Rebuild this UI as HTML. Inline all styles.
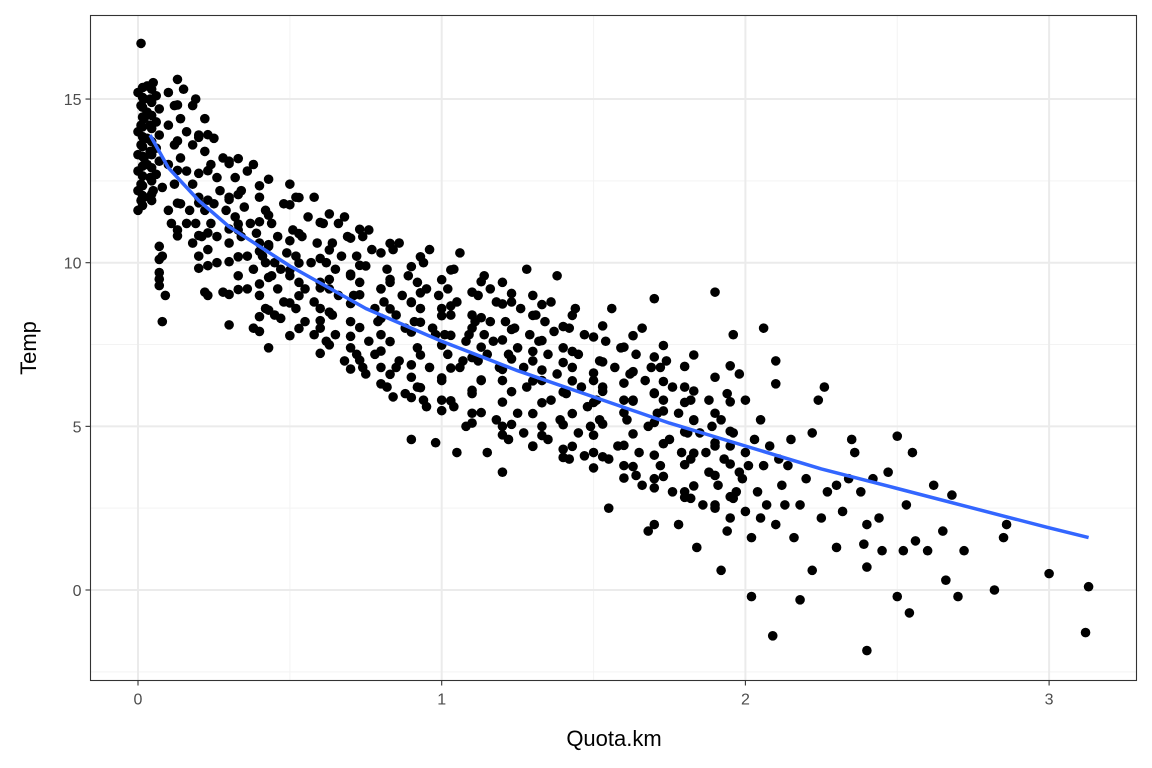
<!DOCTYPE html>
<html><head><meta charset="utf-8"><style>
body{margin:0;background:#fff;}
svg{display:block;font-family:"Liberation Sans",sans-serif;}
</style></head><body>
<svg id="chart" width="1152" height="768" viewBox="0 0 1152 768" xmlns="http://www.w3.org/2000/svg">
<rect x="0" y="0" width="1152" height="768" fill="#fff"/>
<g id="grid"></g>
<g id="points"></g>
<g id="curve"></g>
<rect x="90.5" y="15.5" width="1046" height="665" fill="none" stroke="#333" stroke-width="1.1"/>
<g id="axes"></g>
<text x="614" y="746" font-size="22" text-anchor="middle" fill="#000">Quota.km</text>
<text transform="translate(36,348) rotate(-90)" font-size="22" text-anchor="middle" fill="#000">Temp</text>
</svg>
<script>
const xTicks=[0,1,2,3];
const yTicks=[0,5,10,15];
const xMinor=[0.5,1.5,2.5];
const yMinor=[-2.5,2.5,7.5,12.5];
const curveX=[0.04,0.1,0.2,0.3,0.5,0.75,1,1.25,1.5,1.75,2,2.25,2.5,2.75,3,3.13];
const curveY=[13.9,12.9,11.9,11.1,9.9,8.6,7.6,6.7,5.9,5.1,4.4,3.7,3.1,2.5,1.9,1.6];
const quotaKm=[0.00,0.01,0.02,0.00,0.01,0.02,0.00,0.01,0.02,0.00,0.03,0.04,0.03,0.04,0.03,0.04,0.03,0.04,0.05,0.01,0.05,0.06,0.07,0.06,0.07,0.06,0.07,0.06,0.08,0.00,0.01,0.02,0.00,0.01,
0.07,0.07,0.07,0.07,0.08,0.09,0.08,0.07,0.1,
0.1,0.12,0.14,0.16,0.18,0.2,0.22,0.24,0.26,0.28,0.1,0.12,0.14,0.16,0.18,0.2,0.22,0.24,0.26,0.1,0.12,0.14,0.16,0.18,0.2,0.22,0.23,0.15,0.13,0.18,0.22,0.25,0.19,0.3,0.32,0.34,0.36,0.38,0.3,0.32,0.34,0.36,0.3,0.3,0.28,0.26,0.4,0.42,0.44,0.46,0.48,0.5,0.52,0.4,0.42,0.44,0.46,0.48,0.4,0.42,0.38,0.4,0.43,0.45,0.5,0.52,0.54,0.56,0.58,0.55,0.58,0.6,0.62,0.64,0.66,0.68,0.6,0.62,0.64,0.66,0.7,0.72,0.74,0.76,0.7,0.72,0.74,0.76,0.78,0.8,0.82,0.84,0.86,0.8,0.82,0.84,0.86,0.88,0.9,0.92,0.94,0.96,0.9,0.92,0.9,0.94,0.96,0.98,1.0,1.02,1.04,1.06,1.0,1.02,1.04,1.06,1.08,1.1,1.12,1.14,1.16,0.98,1.05,1.08,1.1,1.12,1.14,1.16,1.18,1.2,1.15,1.18,1.2,1.22,1.24,1.26,1.28,1.3,1.2,1.22,1.25,1.28,1.3,1.32,1.34,1.36,1.38,1.3,1.33,1.36,1.38,1.4,1.42,1.44,1.42,1.45,1.48,1.5,1.52,1.54,1.56,1.46,1.5,1.52,1.55,1.58,1.6,1.62,1.64,1.66,1.65,1.68,1.7,1.72,1.74,1.7,1.66,1.68,1.7,1.72,1.75,1.78,1.8,1.82,1.78,1.8,1.82,1.85,1.88,1.9,1.84,1.86,1.88,1.9,1.92,1.94,1.96,1.92,1.94,1.96,1.98,2.0,1.96,2.0,2.02,2.02,2.04,2.06,2.08,2.06,2.1,2.1,2.1,2.12,2.14,2.09,2.16,2.18,2.2,2.22,2.18,2.22,2.25,2.27,2.24,2.26,2.3,2.32,2.34,2.36,2.38,2.4,2.4,2.39,2.42,2.44,2.45,2.47,2.5,2.52,2.5,2.54,2.55,2.56,2.6,2.62,2.65,2.66,2.68,2.7,2.72,2.82,2.85,2.86,3.0,3.12,3.13,2.4,2.53,2.3,2.35,2.15,2.05,2.0,1.98,
0.25,0.27,0.29,0.33,0.35,0.37,0.39,0.41,0.43,0.45,0.47,0.49,0.51,0.53,0.57,0.59,0.61,0.63,0.65,0.67,0.69,0.71,0.73,0.75,0.77,0.79,0.81,0.83,0.85,0.87,0.89,0.91,0.93,0.95,0.97,0.99,1.01,1.03,1.05,1.07,1.09,1.11,1.13,1.15,1.17,1.19,1.21,1.23,1.25,1.27,1.29,1.31,1.33,1.35,1.37,1.39,1.41,1.43,1.45,1.47,1.49,1.51,1.53,1.57,1.59,1.61,1.63,1.67,1.69,1.71,1.73,1.76,1.79,1.81,1.83,1.87,1.89,1.91,1.93,1.95,1.97,1.99,2.01,2.03,2.07,2.11,2.13,0.55,0.6,0.65,0.7,0.75,0.8,0.85,0.88,0.92,0.95,1.0,1.1,1.2,1.27,1.35,1.4,1.47,1.55,1.6,1.64,1.7,1.76,1.82,1.9,1.95,2.05,0.33,0.36,0.38,0.47,0.52,0.58,0.68,0.78,0.17,0.19,0.21,0.23,0.11,0.13];
const temp=[15.2,14.8,14.4,14.0,13.6,13.2,12.8,12.4,12.0,11.6,15.4,15.0,14.6,14.2,13.8,13.4,13.0,12.6,12.2,16.7,15.5,15.1,14.7,14.3,13.9,13.5,13.1,12.7,12.3,13.3,14.2,15.0,12.2,11.9,
10.5,10.1,9.7,9.3,8.2,9.0,10.2,9.5,11.6,
15.2,14.8,14.4,14.0,13.6,13.9,13.4,13.0,12.6,13.2,14.2,13.6,13.2,12.8,12.4,12.0,11.6,11.2,10.8,13.0,12.4,11.8,11.2,10.6,10.2,9.1,9.0,15.3,15.6,14.8,14.4,13.8,15.0,13.1,12.6,12.2,12.8,13.0,12.0,11.4,10.8,10.2,10.6,8.1,9.1,10.0,12.0,11.6,11.2,10.8,11.8,12.4,12.0,10.6,10.0,9.6,9.2,8.8,9.0,8.6,8.0,7.9,7.4,8.4,9.6,10.2,10.8,11.4,12.0,9.2,8.8,9.4,10.0,10.6,11.2,11.4,8.0,7.6,8.4,9.0,9.6,10.2,10.8,11.0,8.2,7.2,6.8,7.6,8.6,9.2,9.8,10.4,10.6,7.8,6.2,5.9,7.0,8.0,8.8,9.4,10.0,10.4,6.5,7.4,4.6,5.8,6.8,7.8,8.6,9.2,9.8,10.3,6.4,7.2,5.6,6.8,7.6,8.4,9.0,9.6,9.2,4.5,4.2,5.0,6.0,7.0,7.8,8.2,8.8,9.4,4.2,5.2,6.4,7.2,8.0,8.6,9.8,9.0,3.6,4.6,5.4,6.2,7.0,7.6,8.2,8.8,9.6,4.4,5.0,5.8,6.6,7.4,8.0,8.6,4.0,4.8,5.6,6.4,7.0,7.6,8.6,6.2,4.2,5.2,2.5,4.4,5.8,6.6,7.2,8.0,4.2,5.0,6.0,6.8,7.0,8.9,3.2,1.8,2.0,3.8,4.6,5.4,6.2,5.8,2.0,3.0,4.0,4.8,5.8,9.1,1.3,2.6,3.6,4.4,5.2,6.0,4.8,0.6,1.8,2.8,3.6,4.2,7.8,2.4,-0.2,1.6,3.0,3.8,4.4,8.0,7.0,6.3,2.0,3.2,3.8,-1.4,1.6,2.6,3.4,4.8,-0.3,0.6,2.2,3.0,5.8,6.2,1.3,2.4,3.4,4.2,3.0,2.0,0.7,1.4,3.4,2.2,1.2,3.6,4.7,1.2,-0.2,-0.7,4.2,1.5,1.2,3.2,1.8,0.3,2.9,-0.2,1.2,0.0,1.6,2.0,0.5,-1.3,0.1,-1.85,2.6,3.2,4.6,4.6,5.2,5.8,6.6,
11.8,12.2,11.6,11.0,11.7,11.2,10.9,10.2,10.5,10.0,9.8,10.3,11.0,9.4,10.0,10.6,11.2,9.2,9.8,10.2,10.8,9.0,9.4,9.9,10.4,8.2,8.8,9.4,8.4,9.0,9.6,8.2,8.6,9.2,8.0,9.0,7.8,8.4,8.8,7.0,7.8,8.2,6.4,7.2,7.6,6.8,8.2,8.8,7.4,6.8,7.8,8.4,6.4,7.2,7.9,5.2,6.0,6.8,7.2,7.8,5.0,5.8,6.2,6.8,7.4,5.2,5.8,6.4,6.8,5.4,5.8,6.2,4.2,4.8,5.2,4.2,5.0,3.2,4.0,4.4,3.0,3.4,3.8,4.6,2.6,4.0,2.6,8.2,8.6,7.8,7.4,6.6,6.8,6.8,6.0,6.2,5.6,5.8,5.4,5.0,4.8,4.6,4.3,4.1,4.0,3.8,3.5,3.4,3.0,2.8,2.6,2.2,2.2,9.6,9.2,9.8,8.3,8.6,7.8,7.0,7.2,11.6,11.2,10.8,10.4,11.2,11.0];
const quotaKmB=[0.015,0.015,0.015,0.015,0.015,0.015,0.015,0.015,0.015,0.015,0.015,0.015,0.015,0.045,0.045,0.045,0.045,0.045,0.045,0.045,0.045,0.045,0.045,
0.13,0.13,0.13,0.13,0.13,0.20,0.20,0.20,0.20,0.20,0.23,0.23,0.23,0.23,0.23,0.30,0.30,0.30,0.30,0.30,0.33,0.33,0.33,0.33,0.33,0.40,0.40,0.40,0.40,0.40,0.43,0.43,0.43,0.43,0.43,0.50,0.50,0.50,0.50,0.50,0.53,0.53,0.53,0.53,0.53,0.60,0.60,0.60,0.60,0.60,0.63,0.63,0.63,0.63,0.63,0.70,0.70,0.70,0.70,0.70,0.73,0.73,0.73,0.73,0.73,0.80,0.80,0.80,0.80,0.80,0.83,0.83,0.83,0.83,0.83,0.90,0.90,0.90,0.90,0.90,0.93,0.93,0.93,0.93,0.93,1.00,1.00,1.00,1.00,1.00,1.03,1.03,1.03,1.03,1.03,1.10,1.10,1.10,1.10,1.10,1.13,1.13,1.13,1.13,1.13,1.20,1.20,1.20,1.20,1.20,1.23,1.23,1.23,1.23,1.23,1.30,1.30,1.30,1.30,1.30,1.33,1.33,1.33,1.33,1.33,1.40,1.40,1.40,1.40,1.40,1.43,1.43,1.43,1.43,1.43,1.50,1.50,1.50,1.50,1.50,1.53,1.53,1.53,1.53,1.53,1.60,1.60,1.60,1.60,1.60,1.63,1.63,1.63,1.63,1.63,1.70,1.70,1.70,1.70,1.70,1.73,1.73,1.73,1.73,1.73,1.80,1.80,1.80,1.80,1.80,1.83,1.83,1.83,1.83,1.83,1.90,1.90,1.90,1.90,1.90,1.95,1.95,1.95,1.95,1.95];
const tempB=[15.35,15.05,14.75,14.45,14.15,13.85,13.55,13.25,12.95,12.65,12.35,12.05,11.75,15.3,14.9,14.5,14.1,13.7,13.3,12.9,12.5,11.9,12.1,
14.82,13.72,12.82,11.82,10.82,13.83,12.73,11.83,10.83,9.83,13.91,12.81,11.91,10.91,9.91,13.03,11.93,11.03,10.03,9.03,13.18,12.08,11.18,10.18,9.18,12.35,11.25,10.35,9.35,8.35,12.55,11.45,10.55,9.55,8.55,11.77,10.67,9.77,8.77,7.77,11.99,10.89,9.99,8.99,7.99,11.23,10.13,9.23,8.23,7.23,11.49,10.39,9.49,8.49,7.49,10.75,9.65,8.75,7.75,6.75,11.02,9.92,9.02,8.02,7.02,10.30,9.20,8.30,7.30,6.30,10.59,9.49,8.59,7.59,6.59,9.88,8.78,7.88,6.88,5.88,10.18,9.08,8.18,7.18,6.18,9.48,8.38,7.48,6.48,5.48,9.78,8.68,7.78,6.78,5.78,9.10,8.00,7.10,6.10,5.10,9.42,8.32,7.42,6.42,5.42,8.74,7.64,6.74,5.74,4.74,9.06,7.96,7.06,6.06,5.06,8.39,7.29,6.39,5.39,4.39,8.72,7.62,6.72,5.72,4.72,8.05,6.95,6.05,5.05,4.05,8.39,7.29,6.39,5.39,4.39,7.73,6.63,5.73,4.73,3.73,8.07,6.97,6.07,5.07,4.07,7.42,6.32,5.42,4.42,3.42,7.77,6.67,5.77,4.77,3.77,7.12,6.02,5.12,4.12,3.12,7.47,6.37,5.47,4.47,3.47,6.83,5.73,4.83,3.83,2.83,7.18,6.08,5.18,4.18,3.18,6.5,5.4,4.5,3.5,2.5,6.85,5.75,4.85,3.85,2.85];

const NS='http://www.w3.org/2000/svg';
const X0=138, XS=303.7, Y0=590, YS=32.73;
const xScale=v=>X0+v*XS;
const yScale=v=>Y0-v*YS;
const L=90.5,R=1136.5,T=15.5,B=680.5;
function mk(tag,attrs,parent){const e=document.createElementNS(NS,tag);for(const k in attrs)e.setAttribute(k,attrs[k]);parent.appendChild(e);return e;}
const grid=document.getElementById('grid');
xMinor.forEach(v=>{const l=mk('line',{x1:xScale(v),x2:xScale(v),y1:T,y2:B,stroke:'#f3f3f3','stroke-width':1},grid);

});
yMinor.forEach(v=>{const l=mk('line',{x1:L,x2:R,y1:yScale(v),y2:yScale(v),stroke:'#f3f3f3','stroke-width':1},grid);

});
xTicks.forEach(v=>{const l=mk('line',{x1:xScale(v),x2:xScale(v),y1:T,y2:B,stroke:'#ebebeb','stroke-width':2},grid);

});
yTicks.forEach(v=>{const l=mk('line',{x1:L,x2:R,y1:yScale(v),y2:yScale(v),stroke:'#ebebeb','stroke-width':2},grid);

});
const pts=document.getElementById('points');
const allX=quotaKm.concat(quotaKmB);
const allY=temp.concat(tempB);
for(let i=0;i<allX.length;i++){
 const c=mk('circle',{cx:xScale(allX[i]),cy:yScale(allY[i]),r:4.8,fill:'#000'},pts);
 
 
}
const cg=document.getElementById('curve');
const d=curveX.map((v,i)=>(i?'L':'M')+xScale(v).toFixed(1)+','+yScale(curveY[i]).toFixed(1)).join(' ');
const p=mk('path',{d:d,fill:'none',stroke:'#3366FF','stroke-width':3.5,'stroke-linejoin':'round'},cg);


const ax=document.getElementById('axes');
xTicks.forEach(v=>{
 const t=mk('line',{x1:xScale(v),x2:xScale(v),y1:B,y2:B+5,stroke:'#333','stroke-width':1.1},ax);
 
 
 const s=mk('text',{x:xScale(v),y:B+24,'font-size':16,'text-anchor':'middle',fill:'#4d4d4d'},ax);
 s.textContent=String(v);
 
 
});
yTicks.forEach(v=>{
 const t=mk('line',{x1:L-5,x2:L,y1:yScale(v),y2:yScale(v),stroke:'#333','stroke-width':1.1},ax);
 
 
 const s=mk('text',{x:L-9,y:yScale(v)+6,'font-size':16,'text-anchor':'end',fill:'#4d4d4d'},ax);
 s.textContent=String(v);
 
 
});
</script>
</body></html>
